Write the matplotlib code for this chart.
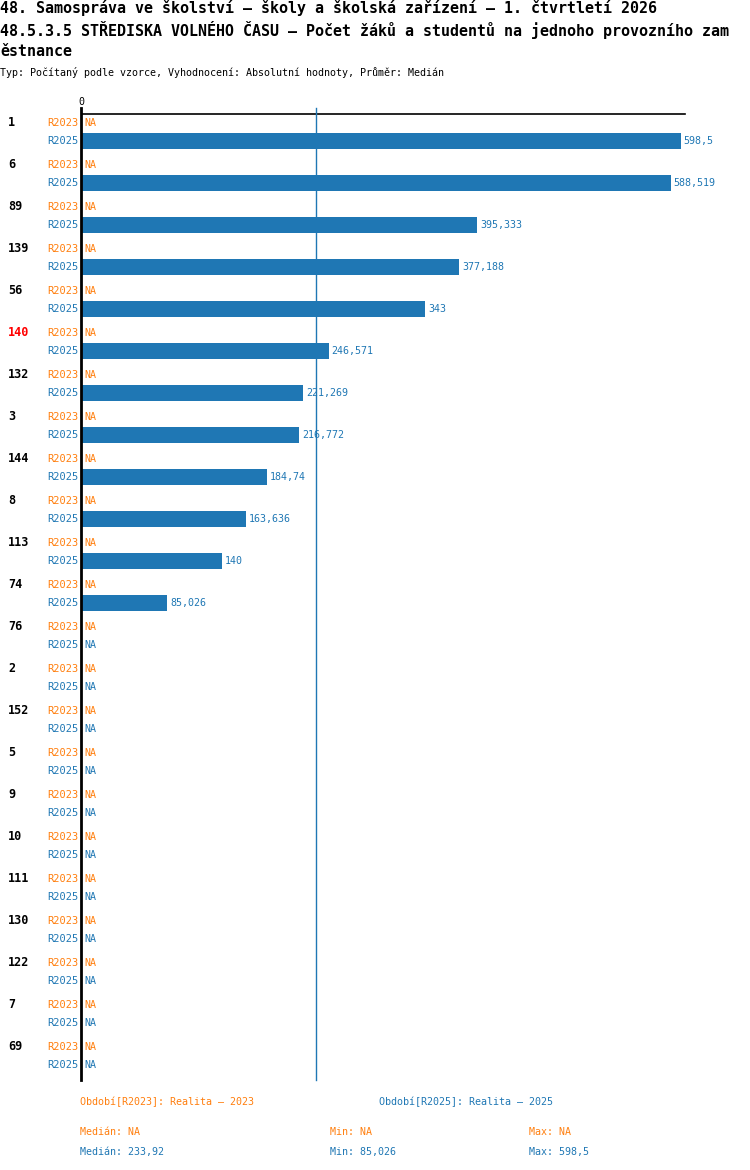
import matplotlib
matplotlib.use("Agg")
import matplotlib.pyplot as plt

groups = ["1", "6", "89", "139", "56", "140", "132", "3", "144", "8", "113", "74",
          "76", "2", "152", "5", "9", "10", "111", "130", "122", "7", "69"]
r2023 = [None] * len(groups)
r2025 = [598.5, 588.519, 395.333, 377.188, 343, 246.571, 221.269, 216.772,
         184.74, 163.636, 140, 85.026] + [None] * 11
highlight = "140"
median_2025 = 233.92
min_2025 = 85.026
max_2025 = 598.5

ORANGE = "#ff7f0e"
BLUE = "#1f77b4"
MONO = "DejaVu Sans Mono"

W, H = 750, 1170
fig = plt.figure(figsize=(W / 100, H / 100), dpi=100)


def fx(px):
    return px / W


def fy(py):
    return 1 - py / H


def fmt(v):
    return f"{v:g}".replace(".", ",")


# axes in pixel-like units: x from 82 to 685 px, y from 100 to 1080 px
x0, x1, y0, y1 = 82, 685, 100, 1080
ax = fig.add_axes([fx(x0), fy(y1), (x1 - x0) / W, (y1 - y0) / H])
ax.set_xlim(0, (x1 - x0))
ax.set_ylim(y1 - y0, 0)
ax.axis("off")

pitch = 42
for i, g in enumerate(groups):
    ya = 23 + pitch * i
    yb = 41 + pitch * i
    ax.text(-74, ya, g, ha="left", va="center", fontsize=8.5, fontweight="bold",
            family=MONO, color="red" if g == highlight else "black", clip_on=False)
    ax.text(-3, ya, "R2023", ha="right", va="center", fontsize=7.5, family=MONO,
            color=ORANGE, clip_on=False)
    ax.text(-3, yb, "R2025", ha="right", va="center", fontsize=7.5, family=MONO,
            color=BLUE, clip_on=False)
    if r2023[i] is None:
        ax.text(2, ya, "NA", ha="left", va="center", fontsize=7.2, family=MONO, color=ORANGE)
    else:
        ax.barh(ya, r2023[i], height=16, color=ORANGE)
    v = r2025[i]
    if v is None:
        ax.text(2, yb, "NA", ha="left", va="center", fontsize=7.2, family=MONO, color=BLUE)
    else:
        ax.barh(yb, v, height=16, color=BLUE, left=0)
        ax.text(v + 3, yb, fmt(v), ha="left", va="center", fontsize=7.2, family=MONO,
                color=BLUE, clip_on=False)

# axis lines
ax.plot([0, x1 - x0], [14, 14], color="black", lw=1.2, clip_on=False)
ax.plot([-1, -1], [8, y1 - y0], color="black", lw=2, clip_on=False)
ax.plot([median_2025, median_2025], [8, y1 - y0], color=BLUE, lw=1, clip_on=False)
ax.text(-1, 2, "0", ha="center", va="center", fontsize=7.2, family=MONO, clip_on=False)

# titles
fig.text(fx(0), fy(8), "48. Samospráva ve školství – školy a školská zařízení – 1. čtvrtletí 2026",
         fontsize=10.8, fontweight="bold", family=MONO, va="center")
fig.text(fx(0), fy(30), "48.5.3.5 STŘEDISKA VOLNÉHO ČASU – Počet žáků a studentů na jednoho provozního zam",
         fontsize=10.8, fontweight="bold", family=MONO, va="center")
fig.text(fx(0), fy(52), "ěstnance",
         fontsize=10.8, fontweight="bold", family=MONO, va="center")
fig.text(fx(0), fy(73), "Typ: Počítaný podle vzorce, Vyhodnocení: Absolutní hodnoty, Průměr: Medián",
         fontsize=7.2, family=MONO, va="center")

# legend / stats
fig.text(fx(80), fy(1102), "Období[R2023]: Realita – 2023", fontsize=7.2, family=MONO,
         va="center", color=ORANGE)
fig.text(fx(379), fy(1102), "Období[R2025]: Realita – 2025", fontsize=7.2, family=MONO,
         va="center", color=BLUE)
fig.text(fx(80), fy(1132), "Medián: NA", fontsize=7.2, family=MONO, va="center", color=ORANGE)
fig.text(fx(330), fy(1132), "Min: NA", fontsize=7.2, family=MONO, va="center", color=ORANGE)
fig.text(fx(529), fy(1132), "Max: NA", fontsize=7.2, family=MONO, va="center", color=ORANGE)
fig.text(fx(80), fy(1152), "Medián: " + fmt(median_2025), fontsize=7.2, family=MONO,
         va="center", color=BLUE)
fig.text(fx(330), fy(1152), "Min: " + fmt(min_2025), fontsize=7.2, family=MONO,
         va="center", color=BLUE)
fig.text(fx(529), fy(1152), "Max: " + fmt(max_2025), fontsize=7.2, family=MONO,
         va="center", color=BLUE)

fig.savefig("out.png", dpi=100)
